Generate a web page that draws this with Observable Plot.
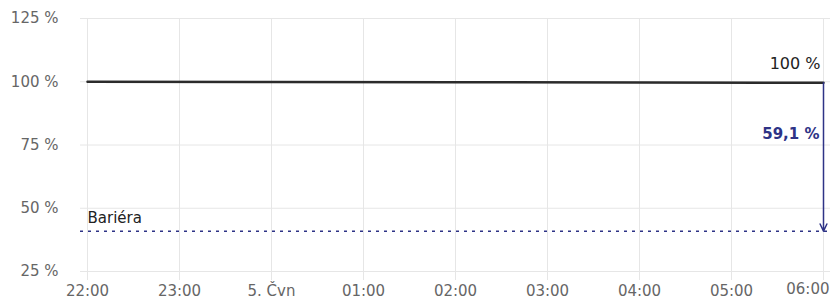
<!DOCTYPE html>
<html>
<head>
<meta charset="utf-8">
<script src="https://cdn.jsdelivr.net/npm/d3@7"></script>
<script src="https://cdn.jsdelivr.net/npm/@observablehq/plot@0.6"></script>
<style>
  html, body { margin: 0; padding: 0; background: #fff; }
  svg { font-family: "DejaVu Sans", sans-serif; }
</style>
</head>
<body>
<div id="chart"></div>
<script>
// Data
const times = ["2024-06-04T22:00", "2024-06-05T00:00", "2024-06-05T02:00", "2024-06-05T04:00", "2024-06-05T06:00"];
const values = [100.0, 99.9, 99.8, 99.7, 99.6];
const barrier = 40.9;
const distanceLabel = "59,1 %";
const lastLabel = "100 %";
const barrierLabel = "Bariéra";
const yTicks = [25, 50, 75, 100, 125];
const xTicks = ["2024-06-04T22:00", "2024-06-04T23:00", "2024-06-05T00:00", "2024-06-05T01:00", "2024-06-05T02:00", "2024-06-05T03:00", "2024-06-05T04:00", "2024-06-05T05:00", "2024-06-05T06:00"];

const parse = d3.timeParse("%Y-%m-%dT%H:%M");
const series = times.map((t, i) => ({t: parse(t), v: values[i]}));
const xTickDates = xTicks.map(parse);
const innerTicks = xTickDates.slice(0, -1);
const lastTick = xTickDates.slice(-1);
const last = series[series.length - 1];
const navy = "#2e3386";

const fmtX = d => (d.getHours() === 0 && d.getMinutes() === 0) ? `${d.getDate()}. Čvn` : d3.timeFormat("%H:%M")(d);

const plot = Plot.plot({
  width: 830,
  height: 299,
  marginLeft: 80,
  marginRight: 0,
  marginTop: 18,
  marginBottom: 19,
  style: {fontFamily: "DejaVu Sans, sans-serif", fontSize: "15px", overflow: "visible"},
  x: {type: "time", domain: [parse(xTicks[0]), parse(xTicks[xTicks.length - 1])], inset: 7, axis: null},
  y: {domain: [25, 125], insetBottom: 9, axis: null},
  marks: [
    Plot.gridX(xTickDates, {stroke: "#e6e6e6", strokeOpacity: 1, strokeWidth: 1}),
    Plot.gridY(yTicks, {stroke: "#e6e6e6", strokeOpacity: 1, strokeWidth: 1}),
    Plot.axisY(yTicks, {tickSize: 0, tickPadding: 22, tickFormat: d => `${d} %`, fill: "#666", fontSize: 15, label: null}),
    Plot.axisX(innerTicks, {tickSize: 0, tickPadding: 5, tickFormat: fmtX, fill: "#666", fontSize: 15, label: null}),
    Plot.text(lastTick, {x: d => d, frameAnchor: "bottom", dy: 13, text: fmtX, textAnchor: "end", dx: 6, fill: "#666", fontSize: 15}),
    Plot.ruleY([barrier], {stroke: navy, strokeWidth: 1.3, strokeDasharray: "3,5"}),
    Plot.text([barrierLabel], {frameAnchor: "left", y: barrier, dx: 7, dy: -13, textAnchor: "start", fill: "#222", fontSize: 15}),
    Plot.line(series, {x: "t", y: "v", stroke: "#2b2b2b", strokeWidth: 2.5}),
    Plot.arrow([{x: last.t, y1: last.v, y2: barrier}], {x: "x", y1: "y1", y2: "y2", stroke: navy, strokeWidth: 1.5, headLength: 8, headAngle: 50}),
    Plot.text([last], {x: "t", y: "v", text: () => lastLabel, textAnchor: "end", dx: -3, dy: -19, fill: "#222", fontSize: 16}),
    Plot.text([last], {x: "t", y: () => (last.v + barrier) / 2 + 9, text: () => distanceLabel, textAnchor: "end", dx: -4, fill: navy, fontSize: 15, fontWeight: "bold"})
  ]
});
document.getElementById("chart").appendChild(plot);
</script>
</body>
</html>
